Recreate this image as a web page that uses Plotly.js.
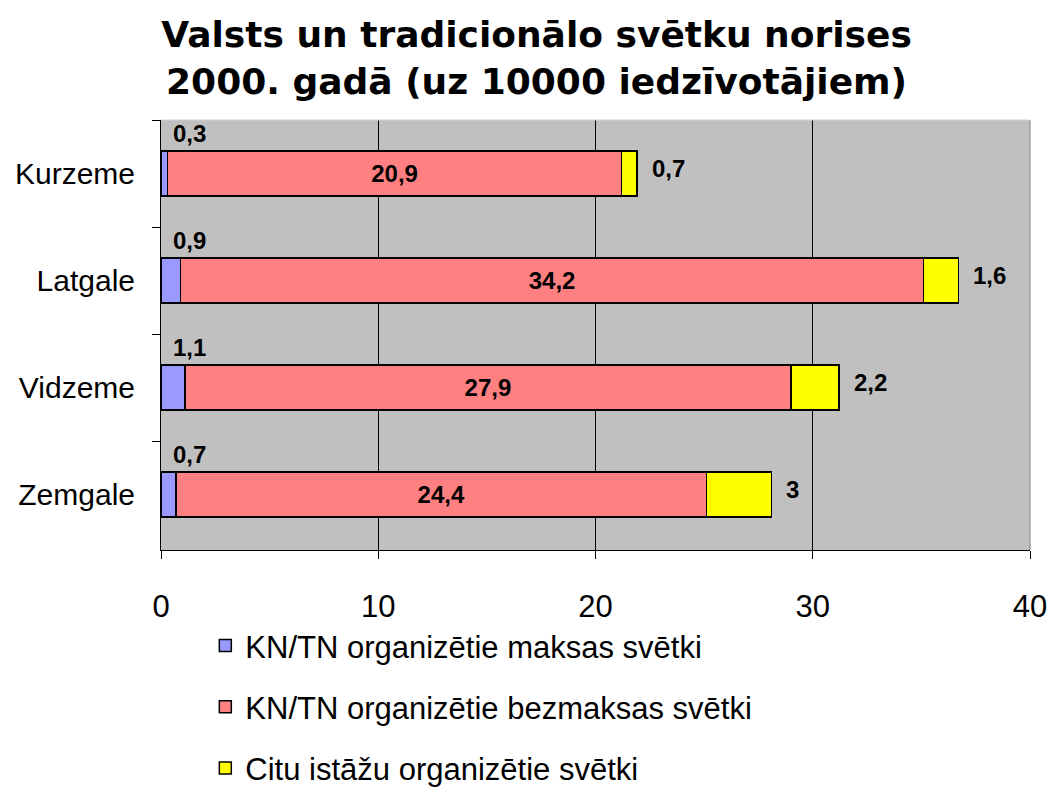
<!DOCTYPE html>
<html>
<head>
<meta charset="utf-8">
<script src="https://cdn.plot.ly/plotly-3.0.1.min.js"></script>
<style>html,body{margin:0;padding:0;background:#fff;}#chart{width:1048px;height:787px;}</style>
</head>
<body>
<div id="chart"></div>
<script>
const categories = ["Kurzeme", "Latgale", "Vidzeme", "Zemgale"];
const paidValues = [0.3, 0.9, 1.1, 0.7];
const freeValues = [20.9, 34.2, 27.9, 24.4];
const otherValues = [0.7, 1.6, 2.2, 3];
const seriesNames = ["KN/TN organizētie maksas svētki", "KN/TN organizētie bezmaksas svētki", "Citu istāžu organizētie svētki"];
const xTicks = [0, 10, 20, 30, 40];

const fmt = v => String(v).replace('.', ',');
const FONT = "Liberation Sans, Arial, sans-serif";
const line = {color: "#000", width: 1.5};
const labelFont = {family: FONT, size: 24, color: "#000"};

const traces = [
  {type: "bar", orientation: "h", y: categories, x: paidValues, name: seriesNames[0],
   marker: {color: "#9999FF", line: line}, legendgroup: "a", hoverinfo: "x"},
  {type: "bar", orientation: "h", y: categories, x: freeValues, name: seriesNames[1],
   marker: {color: "#FF8080", line: line}, legendgroup: "b",
   text: freeValues.map(v => "<b>" + fmt(v) + "</b>"), textposition: "inside", insidetextanchor: "middle",
   textfont: labelFont, constraintext: "none", hoverinfo: "x"},
  {type: "bar", orientation: "h", y: categories, x: otherValues, name: seriesNames[2],
   marker: {color: "#FFFF00", line: line}, legendgroup: "c", hoverinfo: "x"}
];

const annotations = [];
categories.forEach((c, i) => {
  annotations.push({x: 0, y: c, xref: "x", yref: "y", text: "<b>" + fmt(paidValues[i]) + "</b>",
    showarrow: false, xanchor: "left", yanchor: "middle", xshift: 10, yshift: 40,
    font: labelFont});
  const total = paidValues[i] + freeValues[i] + otherValues[i];
  annotations.push({x: total, y: c, xref: "x", yref: "y", text: "<b>" + fmt(otherValues[i]) + "</b>",
    showarrow: false, xanchor: "left", yanchor: "middle", xshift: 13, yshift: 5,
    font: labelFont});
});

const layout = {
  width: 1048, height: 787,
  margin: {l: 161, r: 18, t: 120, b: 237, pad: 0, autoexpand: false},
  paper_bgcolor: "#fff", plot_bgcolor: "#C0C0C0",
  barmode: "stack", bargap: 0.58,
  font: {family: FONT, color: "#000"},
  title: {text: "<b>Valsts un tradicionālo svētku norises<br>2000. gadā (uz 10000 iedzīvotājiem)</b>",
    x: 0.512, xanchor: "center", y: 0.94, yanchor: "middle", automargin: false,
    font: {family: "DejaVu Sans, sans-serif", size: 36, color: "#000"}},
  xaxis: {range: [0, 40], tickvals: xTicks, ticktext: xTicks.map(String), showgrid: true, gridcolor: "#000", gridwidth: 1,
    zeroline: false, showline: true, linecolor: "#000", linewidth: 1, mirror: false,
    ticks: "outside", ticklen: 8, tickcolor: "#000", ticklabelstandoff: 21,
    tickfont: {size: 31, family: FONT}, fixedrange: true},
  yaxis: {type: "category", categoryorder: "array", categoryarray: categories, autorange: "reversed",
    showline: true, linecolor: "#000", linewidth: 1, ticks: "outside", ticklen: 8, tickcolor: "#000",
    tickson: "boundaries", showgrid: false, ticklabelstandoff: 19,
    tickfont: {size: 30, family: FONT}, fixedrange: true},
  showlegend: true,
  legend: {orientation: "v", x: 0.051, xanchor: "left", y: -0.16, yanchor: "top", traceorder: "grouped",
    tracegroupgap: 18, font: {size: 31, family: FONT, color: "#000"}, bgcolor: "rgba(0,0,0,0)", itemwidth: 30},
  annotations: annotations,
  shapes: [
    {type: "line", xref: "paper", yref: "paper", x0: 1, x1: 1, y0: 0, y1: 1, line: {color: "#808080", width: 1}},
    {type: "line", xref: "paper", yref: "paper", x0: 0, x1: 1, y0: 1, y1: 1, line: {color: "#d0d0d0", width: 1}}
  ]
};

Plotly.newPlot("chart", traces, layout, {displayModeBar: false, staticPlot: true});
</script>
</body>
</html>
